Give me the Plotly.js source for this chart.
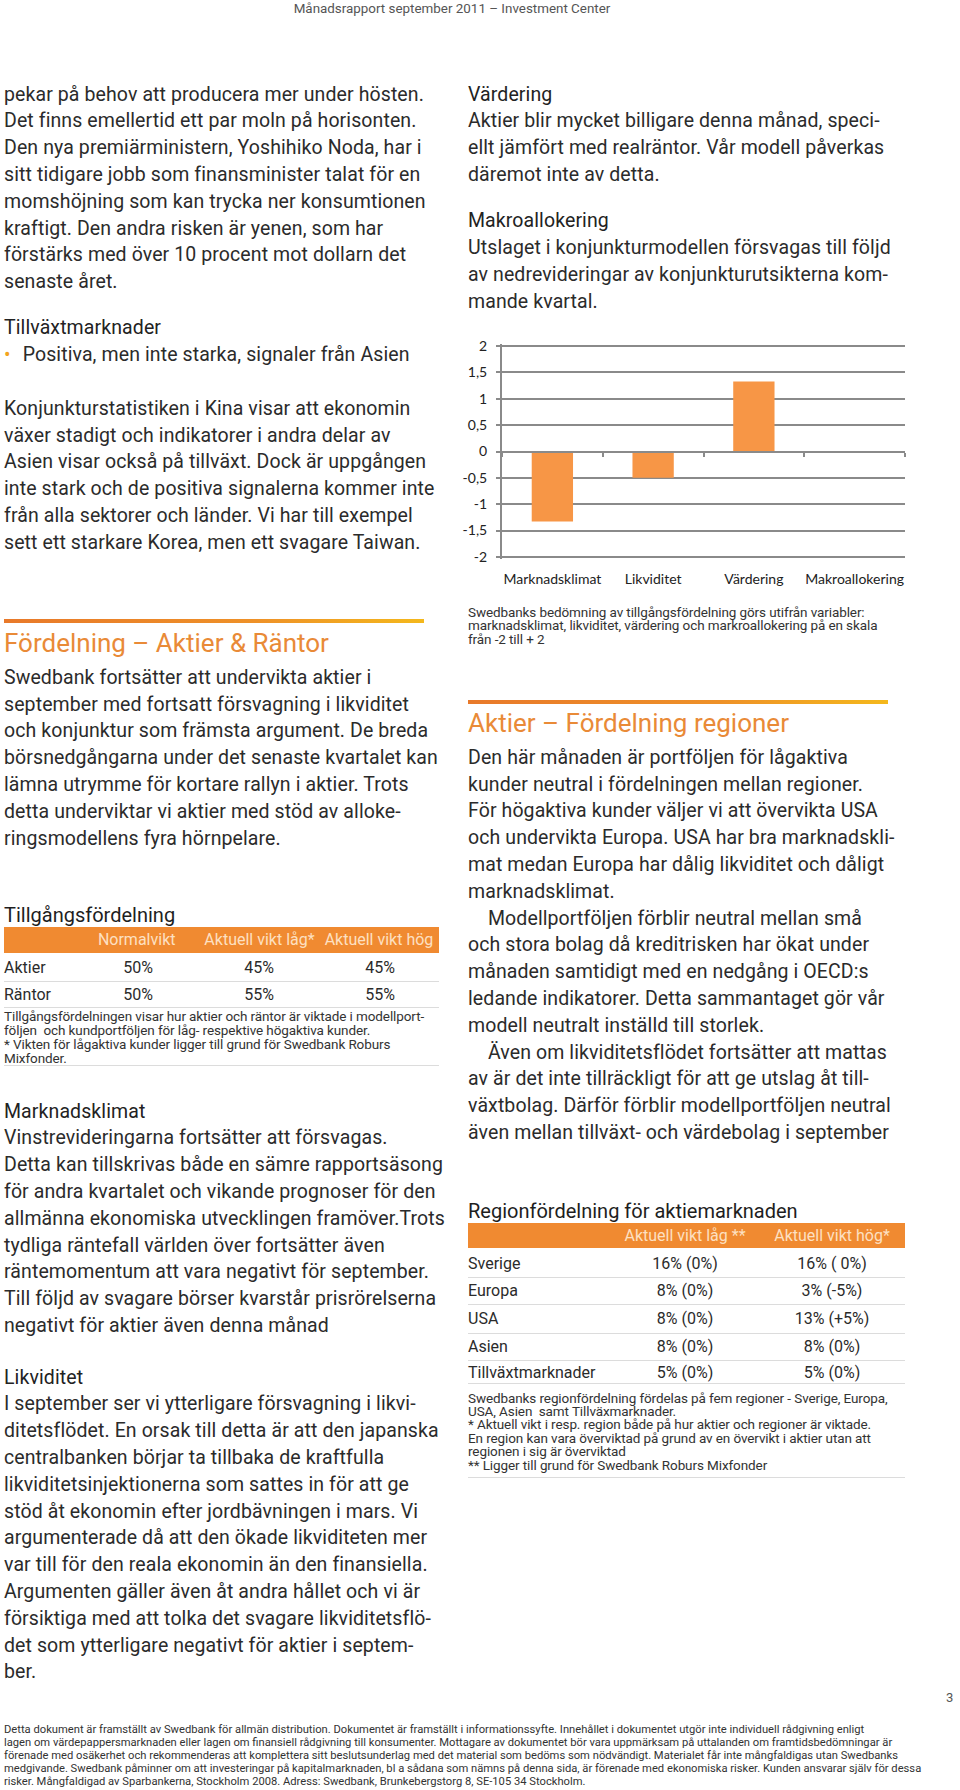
<!DOCTYPE html>
<html lang="sv">
<head>
<meta charset="utf-8">
<script src="https://cdn.plot.ly/plotly-3.0.1.min.js"></script>
<style>
  html, body { margin:0; padding:0; background:#fff; }
  #page { position:relative; width:960px; height:1790px; overflow:hidden; font-family: Roboto, "Noto Sans", sans-serif; color:#2b2b2b; }
  .blk { position:absolute; white-space:nowrap; font-size:19.5px; line-height:26.8px; letter-spacing:0.1px; }
  .head { position:absolute; white-space:nowrap; font-size:19.5px; line-height:26.8px; color:#222; letter-spacing:0.1px; }
  .orangeH { position:absolute; white-space:nowrap; font-size:26px; line-height:30px; color:#E98A37; }
  .rule { position:absolute; height:4px; background:linear-gradient(90deg,#E8792A 0%,#EE9128 60%,#F4B81C 100%); }
  .tblTitle { position:absolute; white-space:nowrap; font-size:20px; line-height:26px; color:#1e1e1e; }
  .bar { position:absolute; background:#F08A31; }
  .th { position:absolute; white-space:nowrap; font-size:16px; line-height:20px; color:#FDE0C2; transform:translateX(-50%); }
  .cell { position:absolute; white-space:nowrap; font-size:16px; line-height:20px; color:#2b2b2b; }
  .cc { transform:translateX(-50%); }
  .sep { position:absolute; height:1px; background:#dcdcdc; }
  .note { position:absolute; white-space:nowrap; font-size:13.5px; line-height:13.9px; color:#333; letter-spacing:-0.1px; }
  .foot { position:absolute; white-space:nowrap; font-size:11.2px; line-height:13px; color:#333; }
  .ind { display:inline-block; width:20px; }
  #chart { position:absolute; left:460px; top:320px; width:460px; height:270px; }
</style>
</head>
<body>
<div id="page">
  <div style="position:absolute; left:452px; top:1px; transform:translateX(-50%); font-size:13.4px; line-height:16px; color:#555; white-space:nowrap;">Månadsrapport september 2011 – Investment Center</div>

  <!-- LEFT COLUMN -->
  <div class="blk" style="left:4px; top:81.6px;">pekar på behov att producera mer under hösten.<br>Det finns emellertid ett par moln på horisonten.<br>Den nya premiärministern, Yoshihiko Noda, har i<br>sitt tidigare jobb som finansminister talat för en<br>momshöjning som kan trycka ner konsumtionen<br>kraftigt. Den andra risken är yenen, som har<br>förstärks med över 10 procent mot dollarn det<br>senaste året.</div>

  <div class="head" style="left:4px; top:315px;">Tillväxtmarknader</div>
  <div class="blk" style="left:4px; top:341.6px;"><span style="color:#F2A51E;">•</span></div>
  <div class="blk" style="left:22.7px; top:341.6px;">Positiva, men inte starka, signaler från Asien</div>

  <div class="blk" style="left:4px; top:395.9px;">Konjunkturstatistiken i Kina visar att ekonomin<br>växer stadigt och indikatorer i andra delar av<br>Asien visar också på tillväxt. Dock är uppgången<br>inte stark och de positiva signalerna kommer inte<br>från alla sektorer och länder. Vi har till exempel<br>sett ett starkare Korea, men ett svagare Taiwan.</div>

  <div class="rule" style="left:4px; top:619px; width:420px;"></div>
  <div class="orangeH" style="left:4px; top:627.7px;">Fördelning – Aktier &amp; Räntor</div>
  <div class="blk" style="left:4px; top:664.9px;">Swedbank fortsätter att undervikta aktier i<br>september med fortsatt försvagning i likviditet<br>och konjunktur som främsta argument. De breda<br>börsnedgångarna under det senaste kvartalet kan<br>lämna utrymme för kortare rallyn i aktier. Trots<br>detta underviktar vi aktier med stöd av alloke-<br>ringsmodellens fyra hörnpelare.</div>

  <div class="tblTitle" style="left:4px; top:902px;">Tillgångsfördelning</div>
  <div class="bar" style="left:4px; top:927.3px; width:435px; height:25.4px;"></div>
  <div class="th" style="left:136.7px; top:930px;">Normalvikt</div>
  <div class="th" style="left:259.5px; top:930px;">Aktuell vikt låg*</div>
  <div class="th" style="left:379px; top:930px;">Aktuell vikt hög</div>
  <div class="cell" style="left:4px; top:958.3px;">Aktier</div>
  <div class="cell cc" style="left:138px; top:958.3px;">50%</div>
  <div class="cell cc" style="left:259px; top:958.3px;">45%</div>
  <div class="cell cc" style="left:380px; top:958.3px;">45%</div>
  <div class="sep" style="left:4px; top:980.5px; width:435px;"></div>
  <div class="cell" style="left:4px; top:985px;">Räntor</div>
  <div class="cell cc" style="left:138px; top:985px;">50%</div>
  <div class="cell cc" style="left:259px; top:985px;">55%</div>
  <div class="cell cc" style="left:380px; top:985px;">55%</div>
  <div class="sep" style="left:4px; top:1006.5px; width:435px;"></div>
  <div class="note" style="left:4px; top:1009.8px;">Tillgångsfördelningen visar hur aktier och räntor är viktade i modellport-<br>följen&nbsp; och kundportföljen för låg- respektive högaktiva kunder.<br>* Vikten för lågaktiva kunder ligger till grund för Swedbank Roburs<br>Mixfonder.</div>
  <div class="sep" style="left:4px; top:1065px; width:435px;"></div>

  <div class="head" style="left:4px; top:1098.6px;">Marknadsklimat</div>
  <div class="blk" style="left:4px; top:1125.4px;">Vinstrevideringarna fortsätter att försvagas.<br>Detta kan tillskrivas både en sämre rapportsäsong<br>för andra kvartalet och vikande prognoser för den<br>allmänna ekonomiska utvecklingen framöver.Trots<br>tydliga räntefall världen över fortsätter även<br>räntemomentum att vara negativt för september.<br>Till följd av svagare börser kvarstår prisrörelserna<br>negativt för aktier även denna månad</div>

  <div class="head" style="left:4px; top:1364.6px;">Likviditet</div>
  <div class="blk" style="left:4px; top:1391.4px;">I september ser vi ytterligare försvagning i likvi-<br>ditetsflödet. En orsak till detta är att den japanska<br>centralbanken börjar ta tillbaka de kraftfulla<br>likviditetsinjektionerna som sattes in för att ge<br>stöd åt ekonomin efter jordbävningen i mars. Vi<br>argumenterade då att den ökade likviditeten mer<br>var till för den reala ekonomin än den finansiella.<br>Argumenten gäller även åt andra hållet och vi är<br>försiktiga med att tolka det svagare likviditetsflö-<br>det som ytterligare negativt för aktier i septem-<br>ber.</div>

  <!-- RIGHT COLUMN -->
  <div class="head" style="left:468px; top:81.6px;">Värdering</div>
  <div class="blk" style="left:468px; top:108.4px;">Aktier blir mycket billigare denna månad, speci-<br>ellt jämfört med realräntor. Vår modell påverkas<br>däremot inte av detta.</div>
  <div class="head" style="left:468px; top:208.3px;">Makroallokering</div>
  <div class="blk" style="left:468px; top:235.1px;">Utslaget i konjunkturmodellen försvagas till följd<br>av nedrevideringar av konjunkturutsikterna kom-<br>mande kvartal.</div>

  <div id="chart"></div>

  <div class="note" style="left:468px; top:605.8px; line-height:13.6px;">Swedbanks bedömning av tillgångsfördelning görs utifrån variabler:<br>marknadsklimat, likviditet, värdering och markroallokering på en skala<br>från -2 till + 2</div>

  <div class="rule" style="left:468px; top:700px; width:420px;"></div>
  <div class="orangeH" style="left:468px; top:708.3px;">Aktier – Fördelning regioner</div>
  <div class="blk" style="left:468px; top:744.9px;">Den här månaden är portföljen för lågaktiva<br>kunder neutral i fördelningen mellan regioner.<br>För högaktiva kunder väljer vi att övervikta USA<br>och undervikta Europa. USA har bra marknadskli-<br>mat medan Europa har dålig likviditet och dåligt<br>marknadsklimat.<br><span class="ind"></span>Modellportföljen förblir neutral mellan små<br>och stora bolag då kreditrisken har ökat under<br>månaden samtidigt med en nedgång i OECD:s<br>ledande indikatorer. Detta sammantaget gör vår<br>modell neutralt inställd till storlek.<br><span class="ind"></span>Även om likviditetsflödet fortsätter att mattas<br>av är det inte tillräckligt för att ge utslag åt till-<br>växtbolag. Därför förblir modellportföljen neutral<br>även mellan tillväxt- och värdebolag i september</div>

  <div class="tblTitle" style="left:468px; top:1197.7px;">Regionfördelning för aktiemarknaden</div>
  <div class="bar" style="left:468px; top:1223.3px; width:437px; height:25px;"></div>
  <div class="th" style="left:685px; top:1226px;">Aktuell vikt låg **</div>
  <div class="th" style="left:832px; top:1226px;">Aktuell vikt hög*</div>
  <div class="cell" style="left:468px; top:1254px;">Sverige</div>
  <div class="cell cc" style="left:685px; top:1254px;">16% (0%)</div>
  <div class="cell cc" style="left:832px; top:1254px;">16% ( 0%)</div>
  <div class="sep" style="left:468px; top:1276.7px; width:437px;"></div>
  <div class="cell" style="left:468px; top:1280.7px;">Europa</div>
  <div class="cell cc" style="left:685px; top:1280.7px;">8% (0%)</div>
  <div class="cell cc" style="left:832px; top:1280.7px;">3% (-5%)</div>
  <div class="sep" style="left:468px; top:1304px; width:437px;"></div>
  <div class="cell" style="left:468px; top:1309px;">USA</div>
  <div class="cell cc" style="left:685px; top:1309px;">8% (0%)</div>
  <div class="cell cc" style="left:832px; top:1309px;">13% (+5%)</div>
  <div class="sep" style="left:468px; top:1332.7px; width:437px;"></div>
  <div class="cell" style="left:468px; top:1336.7px;">Asien</div>
  <div class="cell cc" style="left:685px; top:1336.7px;">8% (0%)</div>
  <div class="cell cc" style="left:832px; top:1336.7px;">8% (0%)</div>
  <div class="sep" style="left:468px; top:1360px; width:437px;"></div>
  <div class="cell" style="left:468px; top:1362.7px;">Tillväxtmarknader</div>
  <div class="cell cc" style="left:685px; top:1362.7px;">5% (0%)</div>
  <div class="cell cc" style="left:832px; top:1362.7px;">5% (0%)</div>
  <div class="sep" style="left:468px; top:1383.3px; width:437px;"></div>
  <div class="note" style="left:468px; top:1391.6px; line-height:13.4px;">Swedbanks regionfördelning fördelas på fem regioner - Sverige, Europa,<br>USA, Asien&nbsp; samt Tillväxmarknader.<br>* Aktuell vikt i resp. region både på hur aktier och regioner är viktade.<br>En region kan vara överviktad på grund av en övervikt i aktier utan att<br>regionen i sig är överviktad<br>** Ligger till grund för Swedbank Roburs Mixfonder</div>
  <div class="sep" style="left:468px; top:1477px; width:437px;"></div>

  <div style="position:absolute; left:946px; top:1690px; font-size:13px; line-height:16px; color:#555;">3</div>

  <div class="foot" style="left:4px; top:1722.5px;">Detta dokument är framställt av Swedbank för allmän distribution. Dokumentet är framställt i informationssyfte. Innehållet i dokumentet utgör inte individuell rådgivning enligt<br>lagen om värdepappersmarknaden eller lagen om finansiell rådgivning till konsumenter. Mottagare av dokumentet bör vara uppmärksam på uttalanden om framtidsbedömningar är<br>förenade med osäkerhet och rekommenderas att komplettera sitt beslutsunderlag med det material som bedöms som nödvändigt. Materialet får inte mångfaldigas utan Swedbanks<br>medgivande. Swedbank påminner om att investeringar på kapitalmarknaden, bl a sådana som nämns på denna sida, är förenade med ekonomiska risker. Kunden ansvarar själv för dessa<br>risker. Mångfaldigad av Sparbankerna, Stockholm 2008. Adress: Swedbank, Brunkebergstorg 8, SE-105 34 Stockholm.</div>
</div>

<script>
// ---- Chart data ----
const categories = ['Marknadsklimat', 'Likviditet', 'Värdering', 'Makroallokering'];
const scores = [-1.33, -0.5, 1.33, 0];
const yTickVals = [-2, -1.5, -1, -0.5, 0, 0.5, 1, 1.5, 2];
const yTickText = ['-2', '-1,5', '-1', '-0,5', '0', '0,5', '1', '1,5', '2'];

const axisGrey = '#8a8a8a';
const labelFont = {family: 'Lato, "Open Sans", sans-serif', size: 14, color: '#222'};

const traces = [
  {
    type: 'bar', x: categories, y: scores,
    marker: {color: '#F79646', line: {width: 0}},
    hoverinfo: 'x+y'
  },
  {
    type: 'scatter', mode: 'markers', x: categories, y: scores, xaxis: 'x2',
    marker: {opacity: 0, size: 1}, hoverinfo: 'skip', showlegend: false
  }
];

const layout = {
  width: 460, height: 270,
  margin: {l: 42, r: 15, t: 24, b: 31, pad: 0},
  paper_bgcolor: 'rgba(0,0,0,0)', plot_bgcolor: 'rgba(0,0,0,0)',
  showlegend: false,
  bargap: 0.59,
  xaxis: {
    type: 'category', range: [-0.5, 3.5], fixedrange: true,
    showgrid: false, zeroline: false, showline: false, ticks: '',
    tickfont: labelFont, ticklabelstandoff: 10
  },
  xaxis2: {
    type: 'category', overlaying: 'x', anchor: 'free', position: 0.5, range: [-0.5, 3.5],
    showgrid: false, zeroline: false, showline: true, linecolor: axisGrey, linewidth: 2,
    ticks: 'outside', tickson: 'boundaries', ticklen: 4, tickwidth: 2, tickcolor: axisGrey,
    showticklabels: false, fixedrange: true
  },
  yaxis: {
    range: [-2.04, 2.04], fixedrange: true,
    tickmode: 'array', tickvals: yTickVals, ticktext: yTickText,
    showgrid: true, gridcolor: axisGrey, gridwidth: 2,
    zeroline: false, showline: true, linecolor: axisGrey, linewidth: 2,
    ticks: 'outside', ticklen: 4, tickwidth: 2, tickcolor: axisGrey,
    tickfont: labelFont, ticklabelstandoff: 6
  }
};

Plotly.newPlot('chart', traces, layout, {displayModeBar: false, staticPlot: true});
</script>
</body>
</html>
